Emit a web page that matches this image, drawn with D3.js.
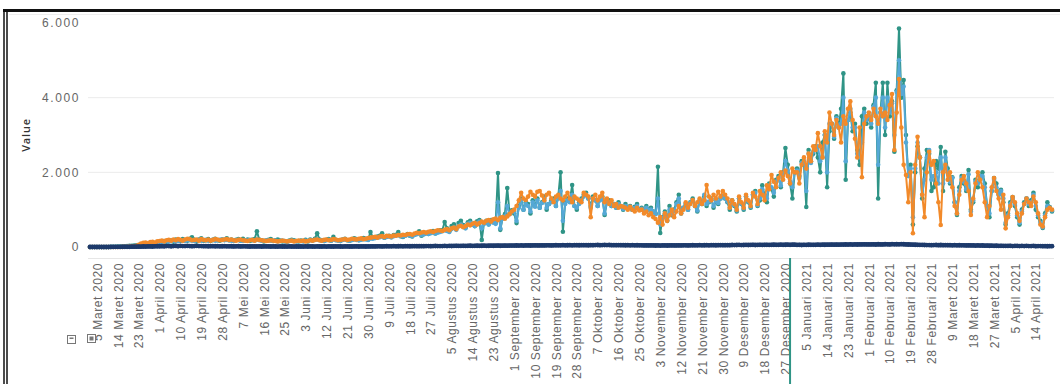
<!DOCTYPE html>
<html lang="id">
<head>
<meta charset="utf-8">
<title>Value</title>
<script src="https://cdnjs.cloudflare.com/ajax/libs/d3/7.8.5/d3.min.js"></script>
<style>
  body { margin: 0; background: #fff; font-family: "Open Sans", sans-serif; }
  svg { display: block; }
  .tick text { fill: #666; font-size: 12px; }
  .x-axis .tick text { letter-spacing: 0.6px; }
  .y-axis .tick text { letter-spacing: 1.6px; }
</style>
</head>
<body>
<div id="chart"></div>
<script>
// data harian mulai 2 Maret 2020
const startDate = Date.UTC(2020, 2, 2);
const bulan = ["Januari", "Februari", "Maret", "April", "Mei", "Juni", "Juli",
  "Agustus", "September", "Oktober", "November", "Desember"];
const yTicks = [0, 2000, 4000, 6000];

const teal = [
  2,0,0,0,1,2,0,0,1,3,5,8,10,15,12,20,25,30,35,40,45,55,60,70,65,80,90,85,100,110,
  130,150,160,120,180,170,140,200,190,160,210,180,170,220,260,190,150,200,230,170,180,210,160,190,220,180,170,200,190,230,
  180,200,160,190,210,170,220,180,200,160,190,210,420,200,180,150,170,190,210,160,180,200,170,150,160,140,170,190,180,160,150,
  170,160,190,150,200,180,220,370,200,180,160,190,210,170,270,190,180,160,200,220,180,170,190,230,210,180,200,240,220,200,
  400,260,240,280,300,370,250,280,300,260,320,330,400,290,270,310,350,300,280,330,360,420,300,340,380,350,390,430,360,400,450,
  450,670,500,420,560,610,480,640,700,590,520,660,700,620,560,690,720,190,650,700,610,720,680,640,1980,460,780,880,1580,900,980,
  900,640,1100,1300,1000,1200,1150,900,1250,1100,1300,1050,1200,1350,1000,1150,1250,1300,1100,1350,2000,410,1200,1300,1250,1660,1100,1000,1200,1300,
  1400,1450,1300,1100,1350,1250,1100,1300,1350,860,1200,1250,1100,1150,1050,1200,1100,1000,1150,1050,1100,1000,1080,1150,1000,1050,950,1100,1000,1050,950,
  900,2150,375,800,950,700,1100,850,1000,1200,1400,900,1050,1150,1000,1200,1300,1100,950,1250,1150,1350,1100,1200,1300,1050,1250,1150,1300,1350,
  1300,1200,1000,1250,1100,950,1300,1150,1000,1350,1200,1050,1400,1500,1100,1250,1650,1400,1200,1700,1550,1350,1800,1900,1600,2000,2650,2200,1700,1300,2000,
  2100,1900,2300,2200,1070,2600,2300,2500,2700,2400,2000,2800,3000,1600,3100,3300,2900,3500,3200,3700,4650,1800,3400,3600,3100,3300,2600,2200,3500,3700,3300,
  3500,3200,3800,4400,1300,3600,4400,3000,4400,3500,3900,2550,4200,5850,4000,4470,3000,1900,2200,600,2000,2700,2400,1300,2100,2600,2500,1500,
  1600,2300,2100,2680,1500,2550,2100,1700,1870,1200,860,1600,1900,1700,1500,2060,1000,1200,1800,1600,1900,2000,1700,1100,800,1500,1850,1700,1400,1530,1200,
  600,900,1200,1340,1100,800,600,1000,1200,1300,1100,1250,1450,1000,800,700,510,900,1200,1070,950
];

const biru = [
  0,0,0,0,0,1,1,2,2,3,4,5,6,8,10,12,14,16,20,25,30,40,50,60,70,75,80,90,100,110,
  120,130,140,150,140,160,170,150,160,180,170,160,190,180,170,160,180,190,170,180,190,170,180,190,170,180,190,200,180,190,
  180,170,160,180,190,170,160,180,170,190,180,170,200,180,170,160,170,180,170,160,170,150,160,170,150,140,160,170,160,150,160,
  160,150,170,160,180,170,190,200,180,170,160,180,190,170,200,180,170,160,190,200,180,170,190,200,190,180,200,210,200,190,
  230,220,240,250,260,280,250,270,280,260,290,300,320,290,280,300,320,310,290,320,340,360,320,340,360,350,370,390,360,380,400,
  420,450,430,400,480,520,460,560,600,540,500,620,650,600,560,640,680,500,620,660,600,700,650,620,1200,500,760,820,1100,880,950,
  950,700,1050,1250,1000,1150,1100,950,1200,1080,1250,1050,1180,1300,1050,1150,1200,1250,1100,1300,1500,700,1150,1250,1200,1400,1100,1050,1150,1250,
  1350,1400,1300,1050,1300,1250,1100,1250,1300,900,1200,1200,1100,1150,1050,1150,1080,1020,1100,1050,1080,1000,1050,1100,1000,1020,950,1050,980,1000,950,
  880,1300,600,780,900,720,1000,880,950,1150,1300,920,1050,1150,1000,1180,1250,1100,980,1220,1150,1400,1150,1220,1280,1100,1250,1180,1300,1350,
  1300,1220,1050,1230,1120,980,1300,1160,1030,1350,1220,1080,1400,1450,1120,1300,1550,1350,1300,1650,1600,1450,1750,1850,1650,1950,2300,2050,1750,1600,2000,
  2050,1850,2250,2300,1500,2500,2250,2550,2650,2700,2300,2400,3000,2000,3300,3300,2950,3450,3200,3300,4000,2300,3400,3700,3200,3200,2500,2400,2800,3600,3400,
  3500,3300,3750,4000,2200,3600,4000,3200,4000,3600,3850,3000,4150,5000,4100,4300,2800,1900,2100,800,2100,2800,2400,1400,1800,2400,2600,1800,
  1900,2000,1700,2400,1700,2400,2000,1750,1850,1200,900,1500,1850,1750,1550,1950,950,1250,1750,1700,1900,1900,1600,1100,900,1500,1800,1600,1400,1500,1300,
  650,850,1150,1300,1150,850,650,950,1150,1300,1150,1200,1400,1100,850,650,530,850,1100,1060,980
];

const oranye = [
  0,0,0,0,0,0,0,0,0,0,0,0,1,2,3,5,8,10,12,20,30,60,90,110,120,100,130,140,120,150,
  160,170,150,180,190,170,200,180,210,190,170,200,220,210,180,190,200,170,210,190,180,200,170,190,210,200,180,190,200,210,
  190,200,180,170,190,200,180,170,160,180,190,170,200,190,180,170,160,170,180,170,160,150,160,170,160,150,160,170,150,160,170,
  160,170,150,160,180,170,190,200,180,170,190,200,180,190,210,200,180,190,200,210,190,200,220,210,200,220,230,210,220,240,
  250,260,270,250,280,290,270,300,290,280,310,300,320,310,330,320,340,350,330,360,380,370,390,400,380,410,420,400,430,450,440,
  430,460,480,450,500,520,480,550,570,530,560,600,580,620,650,600,640,680,650,700,720,680,740,760,720,780,800,760,820,880,950,
  1000,1100,1250,1450,1300,1260,1350,1480,1400,1350,1480,1500,1380,1250,1400,1450,1300,1200,1350,1400,1300,1250,1350,1450,1300,1200,1350,1300,1250,1200,
  1450,1400,1350,800,1300,1400,1250,1350,1450,1200,1300,1150,1250,1100,1150,1050,1100,1080,1050,1000,1080,1000,950,1050,980,1000,900,950,850,900,800,
  750,650,800,600,900,700,850,1000,800,950,1100,900,1000,1200,1050,1150,1260,1100,1200,1300,1150,1250,1660,1350,1250,1400,1300,1480,1350,1500,
  1400,1300,1050,1250,1150,1000,1350,1200,1050,1400,1250,1100,1450,1350,1150,1500,1400,1250,1650,1550,1930,1750,1600,1850,2000,1800,2050,1900,1700,2100,2000,
  2000,1700,2200,2400,2100,2500,2300,2700,2600,3050,2700,2400,3100,2800,3600,3300,3000,3400,3200,2800,3500,3300,3700,3900,3400,2900,2400,3200,1870,3300,3500,
  3600,3400,3700,3500,3300,3700,3500,3600,3400,3800,4100,2600,3600,4500,3200,2200,1930,1200,2000,370,2200,2950,2400,1400,800,2000,2550,2200,
  2300,1700,1200,590,2000,2200,1800,2000,1600,1100,900,1400,1800,1900,1700,1500,860,1300,1700,2000,1800,1600,1200,800,1100,1600,1850,1500,1300,1000,1400,
  500,800,1100,1340,1200,900,700,900,1150,1300,1200,1100,1350,1200,900,600,550,800,1000,1050,1000
];

const navy = [
  0,0,0,0,0,0,0,0,0,1,1,2,2,3,4,5,5,6,8,9,10,12,10,14,12,15,16,14,18,20,
  20,22,18,25,24,20,26,28,22,30,25,24,28,26,22,25,28,24,26,22,24,20,22,25,20,22,18,20,22,18,
  18,20,16,18,20,15,17,19,16,14,18,16,15,17,14,16,18,15,13,16,14,12,15,13,14,12,15,13,12,14,13,
  14,12,15,13,16,14,12,15,13,14,16,12,15,14,13,16,15,14,12,15,16,14,13,15,17,14,16,15,14,16,
  16,18,15,17,19,16,18,20,17,19,21,18,20,22,19,21,23,20,22,24,21,23,25,22,24,26,23,25,27,24,26,
  25,28,26,30,27,29,31,28,30,32,29,31,33,30,32,34,31,33,35,32,34,36,33,35,37,34,36,38,35,37,39,
  38,40,37,42,39,41,43,40,42,44,41,43,45,42,44,46,43,45,47,44,46,48,45,47,49,46,48,50,47,49,
  48,50,47,52,49,51,53,50,52,54,51,53,50,52,49,51,48,50,47,49,46,48,45,47,44,46,43,45,42,44,41,
  40,42,39,41,43,40,42,44,41,43,45,42,44,46,43,45,47,44,46,48,45,47,49,46,48,50,47,49,51,48,
  50,52,49,54,51,53,55,52,54,56,53,55,57,54,56,58,55,57,59,56,58,60,57,59,61,58,60,62,59,61,63,
  55,58,54,57,56,60,57,59,58,61,59,62,60,63,61,64,62,65,63,66,64,67,65,68,66,69,67,70,68,71,69,
  70,68,72,67,73,70,68,74,71,69,75,72,74,71,76,73,70,67,64,62,60,58,56,55,54,52,51,50,
  52,54,50,53,49,51,48,50,46,48,45,47,44,46,42,44,41,43,39,41,38,40,36,38,34,36,32,34,30,32,28,
  30,28,32,26,30,28,26,30,24,28,26,24,28,22,26,24,22,26,20,24,22
];

const width = 1060, height = 384;
const dayOf = i => new Date(startDate + i * 864e5);
const nDays = teal.length;

const svg = d3.select("#chart").append("svg")
  .attr("width", width).attr("height", height);

const x = d3.scaleUtc()
  .domain([dayOf(0), dayOf(nDays - 1)])
  .range([90, 1052]);
const y = d3.scaleLinear().domain([0, 6000]).range([247, 23]);

// grid
svg.append("g").selectAll("line")
  .data(yTicks.filter(d => d > 0 && d < 6000))
  .join("line")
  .attr("x1", 88).attr("x2", 1054)
  .attr("y1", d => y(d)).attr("y2", d => y(d))
  .attr("stroke", "#ebebeb");
svg.append("line").attr("x1", 88).attr("x2", 1054)
  .attr("y1", 258.5).attr("y2", 258.5).attr("stroke", "#e6e6e6");

// y axis
const yAxis = svg.append("g").attr("class", "y-axis").attr("transform", "translate(80,0)")
  .call(d3.axisLeft(y).tickValues(yTicks).tickSize(0).tickPadding(0)
    .tickFormat(d => d3.format(",")(d).replace(",", ".")));
yAxis.select(".domain").remove();

svg.append("text")
  .attr("transform", "translate(30,135) rotate(-90)")
  .attr("text-anchor", "middle")
  .attr("font-size", 11).attr("font-weight", 600)
  .attr("letter-spacing", 0.8).attr("fill", "#333")
  .text("Value");

// x axis, tiap 9 hari
const tickDays = d3.range(3, nDays, 9).map(dayOf);
const xAxis = svg.append("g").attr("class", "x-axis").attr("transform", "translate(0,255)")
  .call(d3.axisBottom(x).tickValues(tickDays).tickSize(0)
    .tickFormat(d => `${d.getUTCDate()} ${bulan[d.getUTCMonth()]} ${d.getUTCFullYear()}`));
xAxis.select(".domain").remove();
xAxis.selectAll("text")
  .attr("transform", "rotate(-90)")
  .attr("text-anchor", "end")
  .attr("x", -8).attr("y", 0).attr("dy", "0.35em");

// garis seri
const series = [
  { values: teal, color: "#2f9486" },
  { values: biru, color: "#55a8d6" },
  { values: oranye, color: "#f28a2a" },
  { values: navy, color: "#1d3a6b", w: 4, r: 2.4 }
];
const line = d3.line().x((d, i) => x(dayOf(i))).y(d => y(d));

series.forEach(s => {
  const g = svg.append("g");
  g.append("path").datum(s.values)
    .attr("fill", "none").attr("stroke", s.color)
    .attr("stroke-width", s.w || 2).attr("stroke-linejoin", "round")
    .attr("d", line);
  g.selectAll("circle").data(s.values).join("circle")
    .attr("cx", (d, i) => x(dayOf(i))).attr("cy", d => y(d))
    .attr("r", s.r || 2.3).attr("fill", s.color);
});

// garis sorot teal di bawah sumbu
const sorot = x(new Date(Date.UTC(2020, 11, 29)));
svg.append("line").attr("x1", sorot).attr("x2", sorot)
  .attr("y1", 258).attr("y2", height)
  .attr("stroke", "#2f9486").attr("stroke-width", 2);

// ikon kecil kiri bawah
[[67, 335, "−"], [87, 334, "·"]].forEach(([ix, iy, t]) => {
  svg.append("rect").attr("x", ix + 0.5).attr("y", iy + 0.5)
    .attr("width", 8).attr("height", 8)
    .attr("fill", "#fff").attr("stroke", "#777");
  svg.append("rect").attr("x", ix + 2.5).attr("y", iy + 2.5)
    .attr("width", 4).attr("height", t === "−" ? 1.5 : 4)
    .attr("fill", "#777");
});

// bingkai
svg.append("line").attr("x1", 3).attr("x2", width)
  .attr("y1", 10.5).attr("y2", 10.5).attr("stroke", "#111").attr("stroke-width", 3);
svg.append("line").attr("x1", 4).attr("x2", 4)
  .attr("y1", 9).attr("y2", height).attr("stroke", "#111").attr("stroke-width", 1.5);
svg.append("line").attr("x1", 7).attr("x2", 7)
  .attr("y1", 9).attr("y2", height).attr("stroke", "#111").attr("stroke-width", 1.5);
svg.append("line").attr("x1", 9).attr("x2", width)
  .attr("y1", 14.5).attr("y2", 14.5).attr("stroke", "#eee");
</script>
</body>
</html>
